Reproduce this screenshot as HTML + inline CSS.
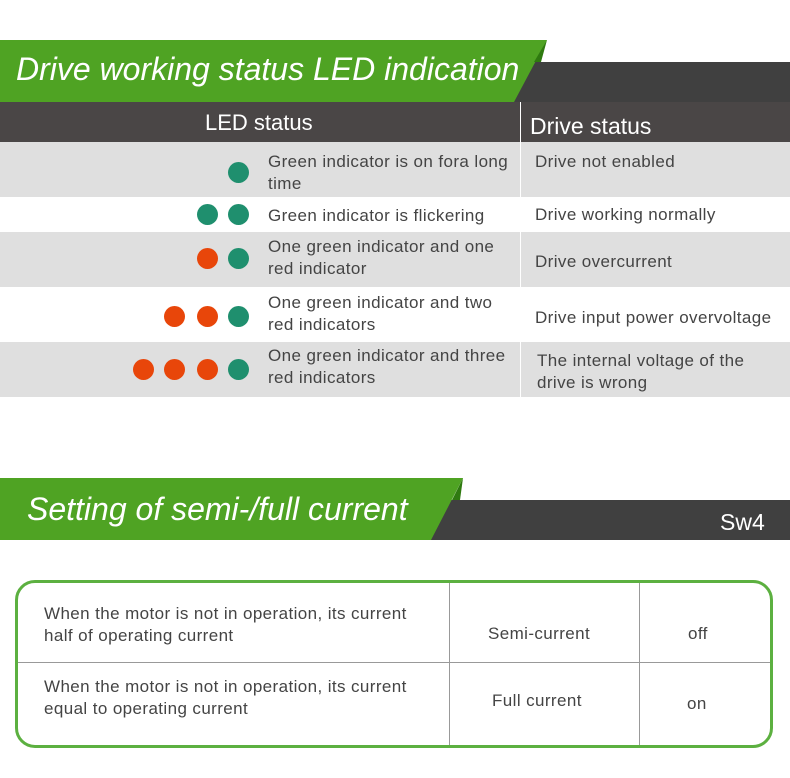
<!DOCTYPE html>
<html><head><style>
body{margin:0;width:790px;height:778px;background:#fff;position:relative;overflow:hidden;font-family:"Liberation Sans",sans-serif;}
.a{position:absolute;}
.t{position:absolute;font-size:17px;letter-spacing:0.4px;color:#444;line-height:22px;white-space:nowrap;}
.d{position:absolute;width:21px;height:21px;border-radius:50%;}
.g{background:#1f8f6e}.o{background:#e8460a}
.row{position:absolute;left:0;width:790px;}
</style></head><body>
<svg class="a" style="left:0;top:0" width="790" height="778">
<polygon points="520,62 790,62 790,102 505,102" fill="#404040"/>
<polygon points="0,40 547,40 514,102 0,102" fill="#4fa323"/>
<polygon points="547,40 541,62 534,62" fill="#2f7a10"/>
<polygon points="440,500 790,500 790,540 430,540" fill="#404040"/>
<polygon points="0,478 463,478 431,540 0,540" fill="#4fa323"/>
<polygon points="463,478 460,500 452,500" fill="#2f7a10"/>
</svg>
<div class="a" style="left:16px;top:51px;font-size:32px;font-style:italic;color:#fff;white-space:nowrap;">Drive working status LED indication</div>
<div class="a" style="left:27px;top:491px;font-size:32px;font-style:italic;color:#fff;white-space:nowrap;">Setting of semi-/full current</div>
<div class="a" style="left:720px;top:509px;font-size:23px;color:#fff;">Sw4</div>

<div class="row" style="top:102px;height:40px;background:#4a4646"></div>
<div class="a" style="left:205px;top:110px;font-size:22px;color:#fff;">LED status</div>
<div class="a" style="left:530px;top:113px;font-size:23px;color:#fff;">Drive status</div>
<div class="row" style="top:142px;height:55px;background:#dfdfdf"></div>
<div class="row" style="top:232px;height:55px;background:#dfdfdf"></div>
<div class="row" style="top:342px;height:55px;background:#dfdfdf"></div>
<div class="a" style="left:520px;top:102px;width:1px;height:295px;background:#fff"></div>

<div class="d g" style="left:228px;top:162px"></div>
<div class="t" style="left:268px;top:151px">Green indicator is on fora long<br>time</div>
<div class="t" style="left:535px;top:151px">Drive not enabled</div>

<div class="d g" style="left:197px;top:204px"></div><div class="d g" style="left:228px;top:204px"></div>
<div class="t" style="left:268px;top:205px">Green indicator is flickering</div>
<div class="t" style="left:535px;top:204px">Drive working normally</div>

<div class="d o" style="left:197px;top:248px"></div><div class="d g" style="left:228px;top:248px"></div>
<div class="t" style="left:268px;top:236px">One green indicator and one<br>red indicator</div>
<div class="t" style="left:535px;top:251px">Drive overcurrent</div>

<div class="d o" style="left:164px;top:306px"></div><div class="d o" style="left:197px;top:306px"></div><div class="d g" style="left:228px;top:306px"></div>
<div class="t" style="left:268px;top:292px">One green indicator and two<br>red indicators</div>
<div class="t" style="left:535px;top:307px">Drive input power overvoltage</div>

<div class="d o" style="left:133px;top:359px"></div><div class="d o" style="left:164px;top:359px"></div><div class="d o" style="left:197px;top:359px"></div><div class="d g" style="left:228px;top:359px"></div>
<div class="t" style="left:268px;top:345px">One green indicator and three<br>red indicators</div>
<div class="t" style="left:537px;top:350px">The internal voltage of the<br>drive is wrong</div>

<div class="a" style="left:15px;top:580px;width:752px;height:162px;border:3px solid #5cb040;border-radius:20px;"></div>
<div class="a" style="left:449px;top:583px;width:1px;height:162px;background:#999"></div>
<div class="a" style="left:639px;top:583px;width:1px;height:162px;background:#999"></div>
<div class="a" style="left:18px;top:662px;width:752px;height:1px;background:#999"></div>
<div class="t" style="left:44px;top:603px">When the motor is not in operation, its current<br>half of operating current</div>
<div class="t" style="left:488px;top:623px">Semi-current</div>
<div class="t" style="left:688px;top:623px">off</div>
<div class="t" style="left:44px;top:676px">When the motor is not in operation, its current<br>equal to operating current</div>
<div class="t" style="left:492px;top:690px">Full current</div>
<div class="t" style="left:687px;top:693px">on</div>
</body></html>
